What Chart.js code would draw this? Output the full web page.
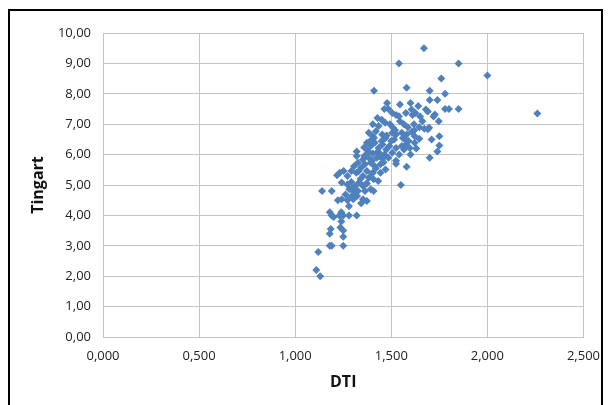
<!DOCTYPE html>
<html>
<head>
<meta charset="utf-8">
<script src="https://cdn.jsdelivr.net/npm/chart.js@4"></script>
<style>
  body { margin: 0; background: #fff; }
  #wrap { position: absolute; left: 0; top: 0; width: 611px; height: 405px; }
  #frame { position: absolute; left: 8px; top: 9px; width: 595px; height: 400px; border: 2px solid #000; box-sizing: border-box; pointer-events: none; }
</style>
</head>
<body>
<div id="wrap">
  <canvas id="scatterChart" width="611" height="405"></canvas>
  <div id="frame"></div>
</div>
<script>
// DTI (x) and Tingart (y) values
const dti = [
  1.11, 1.13, 1.12, 1.14, 1.19, 1.18, 1.19, 1.25, 1.25, 1.25, 1.18, 1.185, 1.24, 1.235,
  1.18, 1.19, 1.24, 1.25, 1.23, 1.28, 1.32, 1.20, 1.28,
  1.67, 1.54, 1.85, 2.00, 2.26, 1.41, 1.58, 1.76, 1.70, 1.78, 1.85, 1.78, 1.80, 1.74, 1.70,
  1.525, 1.525, 1.58, 1.55, 1.70, 1.74, 1.75, 1.75, 1.71, 1.60, 1.63,
  1.478, 1.545, 1.60, 1.64, 1.464, 1.485, 1.606, 1.626, 1.68, 1.69, 1.727, 1.72, 1.61, 1.576, 1.525, 1.505, 1.54, 1.428, 1.45,
  1.404, 1.434, 1.468, 1.493, 1.509, 1.545, 1.566, 1.586, 1.618, 1.646, 1.672, 1.697, 1.662, 1.747, 1.69,
  1.42, 1.453, 1.476, 1.505, 1.525, 1.555, 1.58, 1.606, 1.622, 1.646, 1.572, 1.515, 1.404, 1.383,
  1.373, 1.393, 1.414, 1.434, 1.454, 1.474, 1.49, 1.525, 1.555, 1.576, 1.596, 1.622, 1.566, 1.505, 1.464, 1.434, 1.404, 1.379, 1.359, 1.485, 1.424, 1.383, 1.454, 1.541,
  1.353, 1.327, 1.363, 1.393, 1.414, 1.444, 1.47, 1.404, 1.373, 1.343, 1.306, 1.318, 1.353, 1.383, 1.444, 1.408, 1.432, 1.40, 1.292, 1.272, 1.232, 1.218, 1.252, 1.32, 1.32,
  1.242, 1.272, 1.292, 1.313, 1.333, 1.353, 1.373, 1.282, 1.306, 1.327, 1.363, 1.393, 1.408, 1.262, 1.292, 1.322, 1.353, 1.373, 1.343, 1.222, 1.242, 1.272, 1.302,
  1.39, 1.41, 1.43, 1.45, 1.47, 1.36, 1.38, 1.40, 1.42, 1.44, 1.46, 1.50, 1.52, 1.56, 1.59, 1.62, 1.65, 1.34, 1.37, 1.30, 1.33
];
const tingart = [
  2.20, 2.00, 2.80, 4.80, 4.80, 3.00, 3.00, 3.00, 3.30, 3.50, 3.40, 3.55, 3.80, 3.60,
  4.10, 4.00, 4.10, 4.00, 4.00, 4.00, 4.00, 3.95, 4.30,
  9.50, 9.00, 9.00, 8.60, 7.35, 8.10, 8.20, 8.50, 8.10, 8.00, 7.50, 7.50, 7.50, 7.80, 7.80,
  5.80, 5.70, 5.60, 5.00, 5.90, 6.10, 6.30, 6.60, 6.50, 6.00, 6.20,
  7.70, 7.65, 7.70, 7.60, 7.50, 7.50, 7.48, 7.37, 7.48, 7.42, 7.32, 7.25, 7.30, 7.37, 7.30, 7.37, 7.26, 7.20, 7.15,
  7.00, 6.94, 7.05, 7.00, 6.88, 7.10, 7.00, 6.90, 7.00, 6.90, 6.85, 6.88, 7.10, 7.10, 6.83,
  6.77, 6.66, 6.63, 6.72, 6.66, 6.72, 6.66, 6.74, 6.60, 6.52, 6.50, 6.50, 6.60, 6.72,
  6.39, 6.28, 6.39, 6.22, 6.33, 6.17, 6.28, 6.22, 6.28, 6.33, 6.22, 6.39, 6.17, 6.06, 6.00, 6.06, 6.04, 6.12, 6.23, 5.90, 5.90, 5.90, 5.86, 6.00,
  5.84, 5.73, 5.68, 5.73, 5.62, 5.68, 5.51, 5.40, 5.46, 5.57, 5.62, 5.40, 5.30, 5.24, 5.40, 5.19, 5.13, 5.38, 5.46, 5.30, 5.40, 5.32, 5.46, 6.10, 5.95,
  5.08, 5.02, 5.10, 4.97, 5.08, 4.97, 5.05, 4.86, 4.77, 4.80, 4.80, 4.86, 4.80, 4.69, 4.62, 4.64, 4.53, 4.47, 4.40, 4.50, 4.53, 4.50, 4.53,
  6.45, 6.55, 6.10, 6.45, 6.55, 5.95, 6.05, 5.80, 5.55, 5.95, 5.75, 6.45, 6.80, 6.55, 6.45, 6.80, 7.25, 5.20, 5.05, 4.90, 5.45
];
const xTickLabels = ['0,000', '0,500', '1,000', '1,500', '2,000', '2,500'];
const yTickLabels = ['0,00', '1,00', '2,00', '3,00', '4,00', '5,00', '6,00', '7,00', '8,00', '9,00', '10,00'];

const points = dti.map((x, i) => ({ x: x, y: tingart[i] }));
const tickFont = { family: 'Open Sans', size: 13 };
const titleFont = { family: 'Open Sans', size: 16, weight: 'bold' };

new Chart(document.getElementById('scatterChart'), {
  type: 'scatter',
  data: {
    datasets: [{
      label: 'Tingart',
      data: points,
      pointStyle: 'rectRot',
      pointRadius: 4,
      pointHoverRadius: 4,
      backgroundColor: '#4f81bd',
      borderColor: '#4f81bd',
      borderWidth: 0
    }]
  },
  options: {
    responsive: false,
    animation: false,
    layout: { padding: { left: 20, top: 33, right: 24, bottom: 0 } },
    plugins: { legend: { display: false }, tooltip: { enabled: false } },
    scales: {
      x: {
        type: 'linear',
        min: 0, max: 2.5,
        afterFit: (scale) => { scale.height = 405 - 337; },
        ticks: {
          stepSize: 0.5,
          padding: 11,
          color: '#222',
          font: tickFont,
          maxRotation: 0,
          callback: (v) => xTickLabels[Math.round(v / 0.5)]
        },
        grid: { color: '#c4c4c4', drawTicks: false },
        border: { color: '#c4c4c4' },
        title: { display: true, text: 'DTI', color: '#111', font: titleFont, padding: { top: 0, bottom: 13 } }
      },
      y: {
        min: 0, max: 10,
        afterFit: (scale) => { scale.width = 103 - 20; },
        ticks: {
          stepSize: 1,
          padding: 12,
          color: '#222',
          font: tickFont,
          callback: (v) => yTickLabels[Math.round(v)]
        },
        grid: { color: '#c4c4c4', drawTicks: false },
        border: { color: '#c4c4c4' },
        title: { display: true, text: 'Tingart', color: '#111', font: titleFont, padding: { top: 9, bottom: 0 } }
      }
    }
  }
});
</script>
</body>
</html>
